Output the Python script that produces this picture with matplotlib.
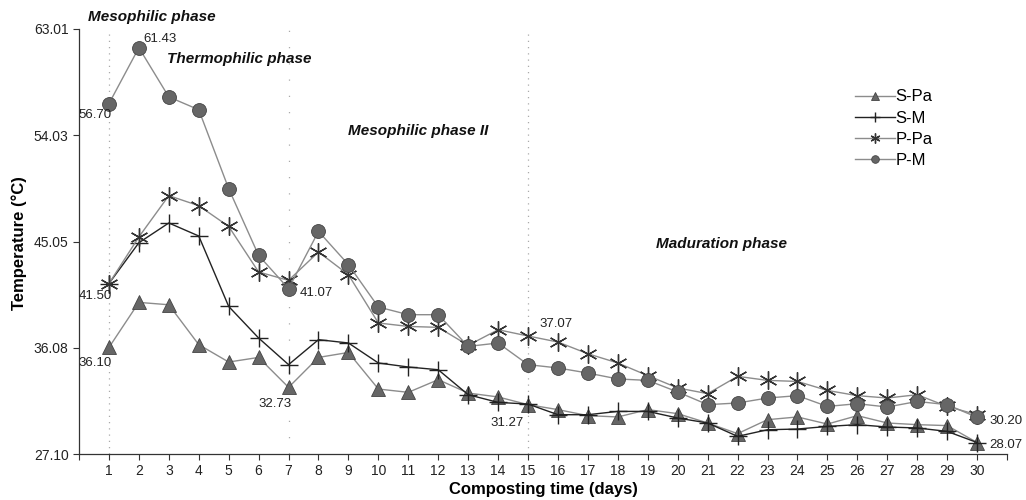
import matplotlib
matplotlib.use("Agg")
import matplotlib.pyplot as plt

plt.rcParams['font.family'] = ['Liberation Sans', 'DejaVu Sans']

days = list(range(1, 31))
s_pa = [36.10, 39.91, 39.71, 36.34, 34.87, 35.26, 32.73, 35.26, 35.68, 32.59,
        32.31, 33.38, 32.25, 31.92, 31.27, 30.85, 30.34, 30.23, 30.85, 30.51,
        29.72, 28.82, 30.00, 30.23, 29.63, 30.34, 29.72, 29.58, 29.50, 28.07]
s_m = [41.50, 44.95, 46.62, 45.52, 39.57, 36.90, 34.65, 36.76, 36.48, 34.79,
       34.45, 34.22, 32.11, 31.46, 31.32, 30.42, 30.42, 30.70, 30.70, 30.14,
       29.72, 28.59, 29.15, 29.21, 29.43, 29.58, 29.38, 29.30, 29.01, 28.07]
p_pa = [41.50, 45.44, 48.93, 48.08, 46.33, 42.48, 41.77, 44.17, 42.25, 38.17,
        37.88, 37.80, 36.28, 37.60, 37.07, 36.56, 35.57, 34.79, 33.72, 32.68,
        32.20, 33.66, 33.32, 33.23, 32.47, 32.03, 31.83, 32.11, 31.12, 30.42]
p_m = [56.70, 61.43, 57.27, 56.19, 49.52, 43.88, 41.07, 45.91, 43.10, 39.52,
       38.87, 38.87, 36.19, 36.48, 34.65, 34.37, 33.94, 33.44, 33.32, 32.34,
       31.27, 31.41, 31.83, 32.03, 31.12, 31.35, 31.07, 31.54, 31.27, 30.20]

y_ticks = [27.10, 36.08, 45.05, 54.03, 63.01]
y_tick_labels = ["27.10", "36.08", "45.05", "54.03", "63.01"]
phase_days = [1, 7, 15]
phase_names = ["Mesophilic phase", "Thermophilic phase", "Mesophilic phase II", "Maduration phase"]
phase_pos = [(0.3, 64.0), (2.93, 60.45), (9.0, 54.35), (19.26, 44.85)]

# annotations: (series, day, text, offset in points)
annots = [
    (p_m, 1, "56.70", (-22, -8)),
    (p_m, 2, "61.43", (3, 6)),
    (p_pa, 1, "41.50", (-22, -9)),
    (s_pa, 1, "36.10", (-22, -11)),
    (s_pa, 7, "32.73", (-22, -12)),
    (p_m, 7, "41.07", (8, -3)),
    (p_pa, 15, "37.07", (8, 9)),
    (s_pa, 15, "31.27", (-27, -13)),
    (p_m, 30, "30.20", (9, -3)),
    (s_m, 30, "28.07", (9, -2)),
]

fig = plt.figure(figsize=(10.26, 5.0), dpi=100)
ax = fig.add_axes([0.077, 0.092, 0.9045, 0.85])

for d, dash in zip(phase_days, [(0, (1, 4)), (0, (1, 12)), (0, (1, 4))]):
    ax.axvline(d, color="#aaaaaa", lw=0.9, linestyle=dash, zorder=1)

ax.plot(days, s_pa, color="#8c8c8c", lw=1.0, marker="^", ms=10,
        mfc="#666666", mec="#444444", mew=0.6, label="S-Pa", zorder=3)
ax.plot(days, s_m, color="#222222", lw=1.0, marker="+", ms=13,
        mec="#222222", mew=1.0, label="S-M", zorder=3)
ax.plot(days, p_pa, color="#8c8c8c", lw=1.0, marker=(6, 2, 0), ms=13,
        mec="#333333", mew=1.0, label="P-Pa", zorder=3)
ax.plot(days, p_m, color="#8c8c8c", lw=1.0, marker="o", ms=10,
        mfc="#666666", mec="#444444", mew=0.6, label="P-M", zorder=3)

for series, d, txt, off in annots:
    ax.annotate(txt, (d, series[d - 1]), xytext=off, textcoords="offset points",
                fontsize=9.5, color="#222222", ha="left", va="center")

for name, (x, y) in zip(phase_names, phase_pos):
    ax.text(x, y, name, fontsize=11, fontweight="bold", fontstyle="italic",
            color="#111111", ha="left", va="center", clip_on=False)

ax.set_xlim(0, 31)
ax.set_ylim(27.10, 63.01)
ax.set_xticks(range(0, 32))
ax.set_xticklabels([""] + [str(d) for d in days] + [""])
ax.set_yticks(y_ticks)
ax.set_yticklabels(y_tick_labels)
ax.tick_params(axis="both", labelsize=10, length=4, width=0.8, color="#333333", labelcolor="#222222")
for s in ["top", "right"]:
    ax.spines[s].set_visible(False)
for s in ["left", "bottom"]:
    ax.spines[s].set_color("#333333")
    ax.spines[s].set_linewidth(0.9)

ax.set_xlabel("Composting time (days)", fontsize=12, fontweight="bold")
ax.xaxis.set_label_coords(0.5, -0.066)
ax.set_ylabel("Temperature (°C)", fontsize=12, fontweight="bold")
ax.yaxis.set_label_coords(-0.056, 0.496)

ax.legend(loc="upper left", bbox_to_anchor=(0.836, 0.858), frameon=False, fontsize=12,
          handlelength=2.4, handletextpad=0.05, labelspacing=0.37, markerscale=0.55,
          borderpad=0.0, borderaxespad=0.0)

fig.savefig("out.png", dpi=100)
